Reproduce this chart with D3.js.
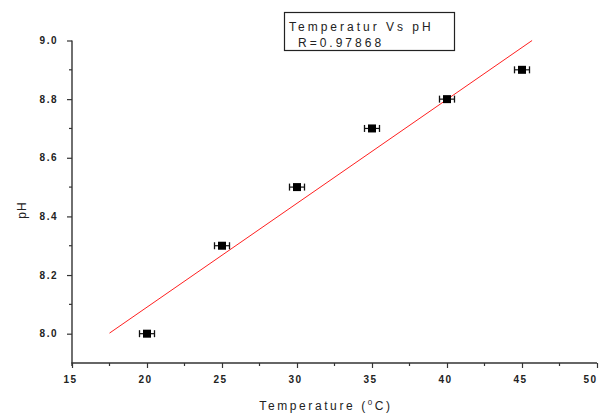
<!DOCTYPE html>
<html>
<head>
<meta charset="utf-8">
<script src="https://cdn.jsdelivr.net/npm/d3@7"></script>
<style>
  html, body { margin: 0; padding: 0; background: #fff; }
  svg { display: block; }
  .tick-label { font-family: "Liberation Sans", Arial, sans-serif; font-size: 10px; font-weight: bold; fill: #222; letter-spacing: 1.5px; }
  .title { font-family: "Liberation Sans", Arial, sans-serif; font-size: 12px; fill: #222; letter-spacing: 2.6px; }
  .legend { letter-spacing: 3px; }
</style>
</head>
<body>
<svg id="chart" width="600" height="420"></svg>
<script>
// Measurements: temperature (°C) against pH, with a ±0.5 °C uncertainty
const temperature = [20, 25, 30, 35, 40, 45];
const pH = [8.0, 8.3, 8.5, 8.7, 8.8, 8.9];
const tempError = [0.5, 0.5, 0.5, 0.5, 0.5, 0.5];

const xTicks = [15, 20, 25, 30, 35, 40, 45, 50];
const xMinorTicks = [17.5, 22.5, 27.5, 32.5, 37.5, 42.5, 47.5];
const yTicks = [8.0, 8.2, 8.4, 8.6, 8.8, 9.0];
const yMinorTicks = [8.1, 8.3, 8.5, 8.7, 8.9];

const legendTitle = "Temperatur Vs pH";

const svg = d3.select("#chart");
const x = d3.scaleLinear().domain([15, 50]).range([72, 597]);
const y = d3.scaleLinear().domain([7.9, 9.0]).range([363, 40.5]);

// Least-squares fit and correlation coefficient
const n = temperature.length;
const mx = d3.mean(temperature), my = d3.mean(pH);
let sxy = 0, sxx = 0, syy = 0;
for (let i = 0; i < n; i++) {
  const dx = temperature[i] - mx, dy = pH[i] - my;
  sxy += dx * dy; sxx += dx * dx; syy += dy * dy;
}
const slope = sxy / sxx;
const intercept = my - slope * mx;
const r = sxy / Math.sqrt(sxx * syy);

// Fit line from 17.5 °C up to where it reaches the top of the plot
const fitStart = 17.5;
const fitEnd = Math.min(50, (y.domain()[1] - intercept) / slope);
svg.append("line")
  .attr("x1", x(fitStart)).attr("y1", y(intercept + slope * fitStart))
  .attr("x2", x(fitEnd)).attr("y2", y(intercept + slope * fitEnd))
  .attr("stroke", "#ff2020").attr("stroke-width", 1);

// Axes
const axisColor = "#333";
const xAxis = svg.append("g").attr("transform", `translate(0,${y(7.9)})`)
  .call(d3.axisBottom(x).tickValues(xTicks).tickSize(5).tickFormat(d3.format("d")));
xAxis.append("g").selectAll("line").data(xMinorTicks).join("line")
  .attr("x1", d => x(d)).attr("x2", d => x(d)).attr("y1", 0).attr("y2", 3);

const yAxis = svg.append("g").attr("transform", `translate(${x(15)},0)`)
  .call(d3.axisLeft(y).tickValues(yTicks).tickSize(5).tickFormat(d3.format(".1f")));
yAxis.append("g").selectAll("line").data(yMinorTicks).join("line")
  .attr("x1", 0).attr("x2", -3).attr("y1", d => y(d)).attr("y2", d => y(d));

[xAxis, yAxis].forEach(g => {
  g.selectAll("line").attr("stroke", axisColor).attr("stroke-width", 1.2);
  g.selectAll(".tick text").attr("class", "tick-label").attr("fill", null);
});
// Plain axis lines, without end caps
xAxis.select(".domain").remove();
yAxis.select(".domain").remove();
xAxis.append("line").attr("x1", x(15) - 0.7).attr("x2", x(50)).attr("y1", 0).attr("y2", 0)
  .attr("stroke", axisColor).attr("stroke-width", 1.4);
yAxis.append("line").attr("x1", 0).attr("x2", 0).attr("y1", y(9.0)).attr("y2", y(7.9) + 3)
  .attr("stroke", axisColor).attr("stroke-width", 1.4);

xAxis.selectAll(".tick text").attr("dy", "1.2em").attr("dx", "-2px");
// Keep the last label inside the right edge
xAxis.selectAll(".tick text").filter(d => d === 50)
  .attr("text-anchor", "end").attr("dx", "0px");
yAxis.selectAll(".tick text").attr("dx", "-6px");

// Error bars and markers
const pts = svg.append("g");
temperature.forEach((t, i) => {
  const cy = y(pH[i]);
  const x0 = x(t - tempError[i]), x1 = x(t + tempError[i]);
  pts.append("line").attr("x1", x0).attr("x2", x1).attr("y1", cy).attr("y2", cy)
    .attr("stroke", "#111").attr("stroke-width", 1.2);
  [x0, x1].forEach(xe => pts.append("line")
    .attr("x1", xe).attr("x2", xe).attr("y1", cy - 3.5).attr("y2", cy + 3.5)
    .attr("stroke", "#111").attr("stroke-width", 1.3));
  pts.append("rect").attr("x", x(t) - 4).attr("y", cy - 4)
    .attr("width", 8).attr("height", 8).attr("fill", "#000");
});

// Axis titles
const xTitle = svg.append("text").attr("class", "title")
  .attr("x", 326).attr("y", 410).attr("text-anchor", "middle");
xTitle.append("tspan").text("Temperature (");
xTitle.append("tspan").attr("font-size", "8px").attr("dy", "-5").text("0");
xTitle.append("tspan").attr("dy", "5").text("C)");

svg.append("text").attr("class", "title")
  .attr("transform", "translate(26,210) rotate(-90)")
  .attr("text-anchor", "middle").style("letter-spacing", "1px").text("pH");

// Legend box
svg.append("rect").attr("x", 284.5).attr("y", 12.5).attr("width", 170).attr("height", 38)
  .attr("fill", "#fff").attr("stroke", "#222").attr("stroke-width", 1.2);
svg.append("text").attr("class", "title legend").attr("x", 289).attr("y", 31).text(legendTitle);
svg.append("text").attr("class", "title legend").attr("x", 298).attr("y", 47)
  .text("R=" + r.toFixed(5));
</script>
</body>
</html>
